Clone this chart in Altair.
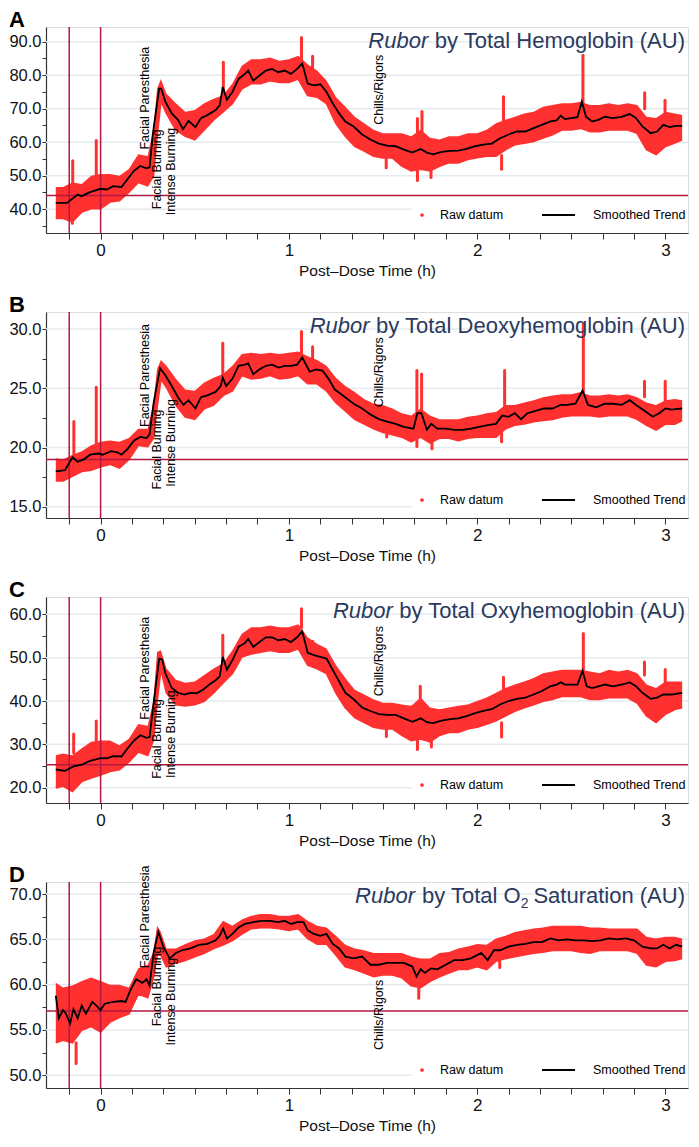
import altair as alt
import pandas as pd

FONT = "Liberation Sans"
RED_PTS = "#ff3030"
RED_LINE = "#b3173f"
GRID = "#e3ebef"
NAVY = "#2b3a5e"
AXC = "#333333"

W_PLOT = 642
H_PLOT = 206
X_DOMAIN = [-0.29, 3.12]

# ---------------- shared time grid of the raw-data envelope (h) ----------------
band_t = [-0.238, -0.2, -0.15, -0.1, -0.05, 0.0, 0.05, 0.1, 0.15, 0.2, 0.25, 0.28, 0.3, 0.32, 0.35,
          0.4, 0.45, 0.5, 0.55, 0.6, 0.65, 0.7, 0.75, 0.8, 0.85, 0.9, 0.95, 1.0, 1.05, 1.1, 1.15,
          1.2, 1.25, 1.3, 1.35, 1.4, 1.45, 1.5, 1.55, 1.6, 1.65, 1.7, 1.75, 1.8, 1.85, 1.9, 1.95,
          2.0, 2.05, 2.1, 2.15, 2.2, 2.25, 2.3, 2.35, 2.4, 2.45, 2.5, 2.55, 2.6, 2.65, 2.7, 2.75,
          2.8, 2.85, 2.9, 2.95, 3.0, 3.05, 3.089]

# ---------------- events ----------------
event_labels = ["Facial Paresthesia", "Facial Burning", "Intense Burning", "Chills/Rigors"]
event_t = [0.255, 0.323, 0.397, 1.50]
vline_t = [-0.1667, 0.0]
x_tick_values = [-1/6, 0, 1/6, 2/6, 3/6, 4/6, 5/6, 1, 7/6, 8/6, 9/6, 10/6, 11/6, 2,
                 13/6, 14/6, 15/6, 16/6, 17/6, 3]

# ---------------- Panel A : Total Hemoglobin ----------------
A_trend_t = [-0.238, -0.178, -0.122, -0.1, -0.056, 0.0, 0.033, 0.067, 0.111, 0.144, 0.178, 0.211,
             0.244, 0.26, 0.278, 0.311, 0.322, 0.344, 0.378, 0.411, 0.438, 0.467, 0.504, 0.533,
             0.567, 0.611, 0.633, 0.649, 0.671, 0.7, 0.733, 0.767, 0.784, 0.811, 0.844, 0.878,
             0.911, 0.944, 0.978, 1.011, 1.044, 1.071, 1.1, 1.133, 1.167, 1.2, 1.233, 1.267, 1.3,
             1.344, 1.389, 1.433, 1.478, 1.522, 1.567, 1.611, 1.656, 1.7, 1.733, 1.767, 1.811,
             1.856, 1.9, 1.944, 1.989, 2.033, 2.078, 2.122, 2.167, 2.211, 2.256, 2.3, 2.344,
             2.389, 2.422, 2.444, 2.467, 2.5, 2.533, 2.556, 2.578, 2.611, 2.644, 2.678, 2.722,
             2.767, 2.811, 2.844, 2.878, 2.922, 2.956, 2.989, 3.022, 3.056, 3.089]
A_trend_v = [41.9, 41.9, 44.4, 43.9, 45.1, 46.1, 45.9, 46.9, 46.6, 49.0, 51.5, 52.9,
             52.2, 52.5, 62.7, 76.0, 76.0, 72.1, 68.6, 66.7, 63.9, 66.4, 64.5, 67.2,
             68.1, 69.6, 71.1, 76.5, 72.7, 75.0, 78.9, 80.4, 81.4, 78.4, 79.9, 81.4,
             81.9, 80.9, 81.4, 80.4, 81.9, 83.5, 77.5, 77.0, 77.3, 75.0, 71.6, 68.6, 66.2,
             64.7, 62.3, 60.8, 59.6, 59.0, 58.8, 57.8, 56.9, 58.0, 56.9, 56.4, 57.1,
             57.4, 57.5, 58.0, 58.8, 59.3, 59.6, 61.2, 62.3, 63.2, 63.2, 64.2, 65.2,
             66.2, 66.5, 67.9, 66.9, 67.2, 67.5, 72.1, 67.6, 66.2, 66.7, 67.6, 67.2,
             67.6, 68.4, 67.2, 64.7, 62.7, 63.2, 65.2, 64.5, 64.9, 64.9]
A_band_lo = [37.3, 37.3, 36.3, 39.2, 40.2, 40.2, 42.2, 42.6, 45.1, 48.0, 47.1, 50.0, 62.0, 72.5, 68.6,
             63.7, 61.8, 60.8, 63.7, 66.7, 69.1, 71.6, 76.0, 77.5, 77.5, 78.4, 77.9, 77.9, 78.9, 74.0, 73.5,
             71.6, 65.7, 61.8, 58.8, 57.4, 55.9, 55.4, 55.4, 52.9, 51.5, 52.0, 51.5, 52.9, 53.9, 53.9, 54.9,
             55.4, 55.9, 55.9, 57.8, 59.3, 59.8, 60.3, 61.3, 62.3, 63.7, 63.7, 64.2, 63.2, 63.2, 63.7, 63.7,
             63.7, 62.7, 57.8, 56.4, 58.8, 59.8, 60.8]
A_band_hi = [46.6, 46.6, 48.0, 47.5, 50.0, 50.5, 50.5, 50.0, 52.0, 56.4, 55.9, 64.0, 76.0, 78.9, 74.5,
             71.6, 69.1, 69.6, 71.6, 73.0, 74.0, 77.5, 82.8, 84.8, 84.8, 85.3, 84.3, 84.8, 85.8, 83.3, 81.4,
             78.4, 73.5, 70.6, 67.6, 65.7, 63.7, 62.7, 62.7, 62.7, 61.8, 63.7, 61.3, 60.8, 61.8, 61.8, 62.7,
             62.7, 63.7, 65.7, 66.7, 67.6, 68.6, 69.1, 70.6, 71.1, 71.6, 71.6, 72.1, 71.1, 71.1, 71.6, 71.1,
             71.6, 71.1, 67.6, 67.2, 69.1, 68.6, 68.1]
A_spike_t = [-0.148, -0.023, 0.652, 1.067, 1.126, 1.683, 1.707, 2.14, 2.562, 2.89, 2.998,
             1.683, 1.755, 2.13, 1.517, -0.15]
A_spike_lo = [47.0, 50.0, 73.0, 84.0, 82.0, 62.0, 62.0, 66.0, 71.0, 70.0, 68.0,
              48.6, 49.5, 51.9, 52.4, 35.8]
A_spike_hi = [54.5, 60.5, 83.9, 91.3, 85.7, 67.1, 69.2, 73.6, 86.0, 74.8, 72.5,
              52.0, 52.0, 56.0, 55.4, 37.5]
A_event_y = [57.8, 40.0, 38.2, 65.2]
A_baseline = 44.1
A_domain = [32.9, 94.4]

# ---------------- Panel B : Total Deoxyhemoglobin ----------------
B_trend_t = [-0.238, -0.189, -0.156, -0.149, -0.122, -0.089, -0.056, -0.011, 0.011, 0.056, 0.089,
             0.111, 0.144, 0.178, 0.211, 0.244, 0.26, 0.282, 0.316, 0.344, 0.378, 0.411, 0.44,
             0.467, 0.504, 0.533, 0.567, 0.611, 0.638, 0.649, 0.667, 0.7, 0.733, 0.767, 0.784,
             0.811, 0.844, 0.878, 0.911, 0.944, 0.978, 1.011, 1.044, 1.071, 1.111, 1.144, 1.178,
             1.211, 1.244, 1.278, 1.311, 1.344, 1.389, 1.433, 1.478, 1.522, 1.567, 1.611, 1.662,
             1.682, 1.704, 1.733, 1.756, 1.789, 1.833, 1.878, 1.922, 1.967, 2.011, 2.056, 2.1,
             2.133, 2.167, 2.2, 2.233, 2.267, 2.311, 2.356, 2.4, 2.444, 2.478, 2.522, 2.56, 2.589,
             2.633, 2.678, 2.722, 2.767, 2.811, 2.844, 2.889, 2.933, 2.967, 3.0, 3.033, 3.089]
B_trend_v = [18.0, 18.1, 19.0, 19.2, 18.8, 19.0, 19.4, 19.5, 19.4, 19.7, 19.6,
             19.4, 19.9, 20.6, 20.9, 20.8, 21.1, 23.8, 26.7, 26.1, 25.2, 24.25, 23.6,
             24.0, 23.3, 24.25, 24.4, 24.7, 25.2, 25.9, 25.2, 25.8, 26.9, 27.0, 27.1,
             26.2, 26.6, 26.9, 27.0, 26.75, 26.9, 26.9, 27.0, 27.6, 26.4, 26.6, 26.5,
             25.8, 24.9, 24.5, 24.1, 23.7, 23.3, 22.8, 22.4, 22.2, 22.0, 21.75, 21.6,
             22.9, 22.9, 21.5, 22.0, 21.6, 21.6, 21.5, 21.5, 21.6, 21.75, 21.9, 22.0,
             22.7, 22.6, 22.9, 22.4, 22.9, 23.1, 23.3, 23.3, 23.6, 23.6, 23.7, 24.8, 23.6,
             23.4, 23.7, 23.7, 23.6, 24.0, 23.6, 23.1, 22.6, 22.9, 23.3, 23.2, 23.3]
B_band_lo = [17.2, 17.2, 17.6, 18.0, 18.1, 18.4, 18.6, 18.3, 19.0, 20.2, 20.1, 20.8, 23.5, 25.8, 25.1,
             23.6, 22.6, 22.4, 23.3, 23.6, 24.4, 24.8, 26.1, 25.8, 25.9, 26.1, 25.8, 25.9, 26.1, 25.4, 25.4,
             24.8, 23.8, 23.1, 22.4, 22.0, 21.6, 21.3, 21.1, 20.9, 20.5, 20.9, 20.4, 20.8, 20.8, 20.6, 20.8,
             20.9, 20.9, 20.9, 21.6, 21.9, 22.0, 22.2, 22.3, 22.4, 22.6, 22.7, 22.7, 22.7, 22.6, 22.7, 22.7,
             22.7, 22.4, 21.9, 21.5, 22.0, 22.0, 22.3]
B_band_hi = [19.1, 19.0, 19.4, 19.7, 20.2, 20.5, 20.6, 20.5, 20.8, 21.6, 21.6, 23.8, 26.6, 27.4, 26.9,
             25.8, 24.9, 24.8, 25.5, 25.9, 26.2, 26.9, 27.9, 28.0, 27.9, 28.0, 27.9, 28.0, 28.1, 27.7, 27.4,
             26.9, 25.9, 25.2, 24.7, 24.1, 23.7, 23.6, 23.3, 22.9, 22.7, 23.3, 22.7, 22.4, 22.4, 22.4, 22.6,
             22.7, 22.9, 23.0, 23.6, 23.6, 23.8, 24.0, 24.25, 24.4, 24.5, 24.5, 24.7, 24.4, 24.4, 24.5, 24.4,
             24.5, 24.25, 23.8, 23.6, 24.0, 24.1, 24.0]
B_spike_t = [-0.142, -0.023, 0.649, 1.067, 1.126, 1.68, 1.705, 2.146, 2.564, 2.889, 2.999,
             1.68, 1.76, 2.13, 1.52]
B_spike_lo = [19.3, 20.0, 26.0, 28.0, 27.5, 22.5, 22.5, 23.5, 24.6, 24.3, 24.0,
              20.1, 19.9, 20.5, 20.9]
B_spike_hi = [22.2, 25.1, 28.8, 29.8, 28.5, 26.5, 26.2, 26.5, 30.4, 25.6, 25.6,
              21.0, 20.9, 21.2, 21.5]
B_event_y = [21.74, 16.47, 16.70, 23.4]
B_baseline = 19.0
B_domain = [14.06, 31.44]

# ---------------- Panel C : Total Oxyhemoglobin ----------------
C_trend_t = [-0.238, -0.189, -0.144, -0.1, -0.056, 0.0, 0.033, 0.067, 0.111, 0.144, 0.178, 0.211,
             0.244, 0.26, 0.282, 0.311, 0.327, 0.344, 0.378, 0.411, 0.444, 0.478, 0.511, 0.544,
             0.578, 0.611, 0.633, 0.649, 0.671, 0.7, 0.733, 0.767, 0.784, 0.811, 0.844, 0.878,
             0.911, 0.944, 0.978, 1.011, 1.044, 1.071, 1.1, 1.133, 1.167, 1.2, 1.233, 1.267, 1.3,
             1.344, 1.389, 1.433, 1.478, 1.522, 1.567, 1.611, 1.656, 1.7, 1.733, 1.767, 1.811,
             1.856, 1.9, 1.944, 1.989, 2.033, 2.078, 2.122, 2.167, 2.211, 2.256, 2.3, 2.344,
             2.389, 2.422, 2.444, 2.467, 2.5, 2.533, 2.56, 2.582, 2.611, 2.644, 2.678, 2.722,
             2.767, 2.811, 2.844, 2.878, 2.922, 2.956, 2.989, 3.033, 3.089]
C_trend_v = [24.2, 23.9, 24.9, 25.3, 26.2, 26.8, 26.8, 27.3, 27.2, 29.1, 30.9, 32.1,
             31.5, 31.7, 39.6, 49.8, 49.6, 46.4, 43.0, 41.9, 41.5, 41.9, 41.8, 42.6,
             43.8, 44.8, 45.7, 50.2, 47.2, 49.4, 52.5, 53.4, 54.3, 52.5, 53.6, 54.7,
             54.7, 54.0, 54.3, 53.6, 54.7, 56.1, 51.1, 50.6, 50.2, 49.8, 47.2, 44.5, 41.9,
             40.4, 38.5, 37.7, 37.0, 36.8, 36.8, 36.0, 35.2, 36.0, 35.1, 34.9, 35.5,
             35.8, 36.0, 36.5, 37.2, 37.7, 38.1, 39.2, 40.0, 40.5, 40.8, 41.5, 42.3,
             43.4, 43.8, 44.3, 43.8, 43.8, 43.8, 47.0, 43.4, 43.0, 43.4, 43.8, 43.4,
             43.8, 44.3, 43.4, 41.9, 40.5, 40.8, 41.5, 41.5, 41.9]
C_band_lo = [20.0, 20.4, 19.2, 21.5, 22.3, 23.0, 23.8, 24.2, 26.0, 28.3, 27.5, 31.0, 40.0, 47.5, 41.9,
             39.2, 38.9, 39.2, 40.0, 41.9, 44.2, 46.4, 50.2, 50.9, 51.3, 51.7, 51.3, 51.3, 52.1, 48.3, 47.5,
             46.4, 41.9, 38.5, 36.2, 35.1, 34.0, 33.6, 33.6, 32.1, 30.9, 31.3, 30.6, 32.1, 32.8, 32.8, 33.6,
             34.0, 34.7, 35.5, 36.6, 37.7, 38.5, 39.2, 40.0, 40.4, 41.1, 41.1, 41.1, 40.4, 40.4, 40.8, 40.8,
             40.8, 39.6, 36.6, 35.1, 37.0, 38.1, 38.5]
C_band_hi = [27.5, 27.9, 27.5, 29.1, 30.6, 30.9, 30.9, 29.8, 31.3, 34.7, 34.3, 40.0, 51.3, 51.7, 47.5,
             44.9, 44.2, 44.5, 46.0, 47.5, 48.7, 51.7, 55.5, 57.0, 57.0, 57.4, 57.0, 57.0, 57.7, 54.7, 53.2,
             52.1, 48.3, 45.3, 42.6, 41.5, 40.4, 39.6, 39.6, 39.2, 38.9, 40.8, 38.5, 38.1, 38.5, 38.9, 39.2,
             40.0, 40.8, 41.9, 43.0, 43.8, 44.5, 45.3, 46.4, 46.8, 47.2, 47.2, 47.2, 46.8, 46.4, 47.2, 46.8,
             47.2, 46.4, 43.8, 43.0, 44.5, 44.5, 44.5]
C_spike_t = [-0.143, -0.023, 0.649, 1.067, 1.126, 1.698, 2.14, 2.564, 2.889, 2.999,
             1.683, 1.757, 2.13, 1.518]
C_spike_lo = [28.0, 30.0, 48.0, 57.0, 52.0, 39.0, 42.0, 47.0, 46.0, 44.0,
              28.8, 29.4, 31.7, 31.8]
C_spike_hi = [32.4, 35.4, 55.2, 61.3, 53.8, 43.4, 45.5, 55.6, 49.0, 47.3,
              31.0, 31.0, 35.0, 33.6]
C_event_y = [35.7, 22.04, 22.26, 41.1]
C_baseline = 25.3
C_domain = [16.47, 64.0]

# ---------------- Panel D : Total O2 Saturation ----------------
D_trend_t = [-0.238, -0.222, -0.2, -0.184, -0.162, -0.144, -0.122, -0.1, -0.078, -0.044, -0.022,
             0.0, 0.022, 0.067, 0.111, 0.133, 0.156, 0.189, 0.222, 0.244, 0.26, 0.282, 0.307,
             0.333, 0.367, 0.4, 0.433, 0.478, 0.522, 0.567, 0.611, 0.633, 0.651, 0.671, 0.7,
             0.733, 0.767, 0.811, 0.856, 0.9, 0.944, 0.978, 1.011, 1.044, 1.078, 1.1, 1.133,
             1.167, 1.2, 1.233, 1.267, 1.3, 1.344, 1.389, 1.433, 1.478, 1.522, 1.567, 1.611,
             1.656, 1.678, 1.7, 1.722, 1.756, 1.789, 1.833, 1.878, 1.922, 1.967, 2.022, 2.056,
             2.089, 2.122, 2.167, 2.211, 2.256, 2.3, 2.344, 2.389, 2.433, 2.478, 2.522, 2.567,
             2.611, 2.656, 2.7, 2.744, 2.789, 2.833, 2.878, 2.922, 2.956, 2.989, 3.022, 3.056, 3.089]
D_trend_v = [58.8, 56.3, 57.2, 56.8, 55.7, 57.3, 56.3, 57.7, 56.8, 58.1, 57.7,
             57.2, 57.9, 58.1, 58.2, 58.1, 59.3, 60.6, 60.2, 60.6, 59.9, 63.6, 65.8,
             64.2, 62.9, 63.5, 63.8, 64.0, 64.4, 64.5, 64.9, 65.4, 66.2, 65.1, 65.6,
             66.3, 66.7, 66.9, 67.05, 67.05, 66.9, 67.05, 66.7, 66.9, 66.9, 66.0, 65.6,
             65.4, 65.6, 64.5, 64.0, 63.1, 62.9, 63.1, 62.2, 62.2, 62.4, 62.4, 62.4,
             62.0, 60.9, 61.7, 61.3, 61.8, 61.7, 62.2, 62.7, 62.7, 62.9, 63.5, 62.7,
             63.8, 63.8, 64.2, 64.4, 64.5, 64.7, 64.7, 65.1, 64.9, 65.0, 64.9, 64.9,
             64.8, 64.9, 65.1, 65.0, 65.1, 64.9, 64.2, 64.0, 64.0, 64.4, 64.0, 64.4, 64.2]
D_band_lo = [53.6, 53.9, 53.6, 55.0, 55.4, 54.8, 55.9, 56.4, 56.8, 59.0, 58.6, 60.8, 63.3, 63.3, 62.0,
             62.4, 62.7, 63.1, 63.5, 64.0, 64.4, 64.9, 65.6, 66.2, 66.3, 66.3, 66.2, 66.0, 66.2, 65.1, 64.5,
             64.5, 63.3, 62.0, 61.7, 61.3, 60.9, 61.1, 61.1, 60.8, 59.9, 59.7, 60.4, 60.9, 61.3, 61.7, 61.7,
             62.0, 61.7, 62.6, 62.9, 63.1, 63.3, 63.5, 63.6, 63.8, 63.8, 63.8, 63.6, 63.5, 63.8, 63.8, 63.8,
             63.8, 63.5, 62.2, 62.0, 62.6, 62.7, 62.9]
D_band_hi = [60.2, 59.7, 59.9, 60.4, 60.8, 60.4, 60.0, 60.0, 59.7, 61.8, 62.2, 63.6, 66.5, 65.8, 64.0,
             64.0, 64.5, 64.9, 65.1, 65.6, 67.05, 66.5, 67.2, 67.6, 67.8, 67.8, 67.6, 67.6, 67.8, 67.05, 66.5,
             66.3, 65.4, 64.4, 64.0, 63.8, 63.5, 63.5, 63.5, 63.5, 63.1, 62.9, 62.9, 63.5, 63.6, 64.0, 64.2,
             64.5, 64.4, 65.1, 65.4, 65.8, 66.0, 66.2, 66.3, 66.5, 66.5, 66.5, 66.5, 66.3, 66.3, 66.2, 66.2,
             66.2, 66.2, 65.3, 65.1, 65.3, 65.3, 65.1]
D_spike_t = [-0.13, 1.69, 2.12]
D_spike_lo = [51.3, 58.5, 61.9]
D_spike_hi = [53.6, 60.0, 62.6]
D_event_y = [61.8, 55.4, 53.3, 52.8]
D_baseline = 57.1
D_domain = [48.6, 71.33]

# ---------------- helpers ----------------
ARIAL_W = {' ': 250, '(': 333, ')': 333, 'A': 667, 'U': 722, 'T': 611, 'H': 722, 'D': 722,
           'O': 778, 'S': 667, 'R': 722, 'a': 556, 'b': 556, 'c': 500, 'd': 556, 'e': 556,
           'g': 556, 'h': 556, 'i': 222, 'l': 222, 'm': 833, 'n': 556, 'o': 556, 'p': 556,
           'r': 333, 's': 500, 't': 278, 'u': 556, 'v': 500, 'x': 500, 'y': 500, '2': 556}


def text_width(s, size):
    return sum(ARIAL_W.get(c, 556) for c in s) / 1000.0 * size


ONE = pd.DataFrame({"k": [0]})


def title_layers(parts, right_x, base_y):
    layers = []
    cur = right_x
    for text, italic, size, dy in reversed(parts):
        kw = dict(align="right", baseline="alphabetic", font=FONT, fontSize=size, color=NAVY)
        if italic:
            kw["fontStyle"] = "italic"
        layers.append(
            alt.Chart(ONE).mark_text(**kw).encode(
                x=alt.value(cur), y=alt.value(base_y + dy), text=alt.value(text.strip())
            )
        )
        cur -= text_width(text, size)
    return layers


def panel(letter, title_parts, trend_t, trend_v, lo, hi, sp_t, sp_lo, sp_hi,
          baseline, domain, tick_step, label_step, event_y):
    xs = alt.Scale(domain=X_DOMAIN, nice=False, zero=False)
    ys = alt.Scale(domain=domain, nice=False, zero=False)
    first = int(-(-domain[0] // tick_step))
    y_ticks = []
    k = first
    while k * tick_step <= domain[1] + 1e-9:
        y_ticks.append(round(k * tick_step, 3))
        k += 1
    grid_vals = [v for v in y_ticks if abs(v / label_step - round(v / label_step)) < 1e-6]

    x_axis = alt.Axis(values=x_tick_values, grid=False, tickSize=6, tickColor=AXC,
                      domainColor=AXC, domainWidth=1.2,
                      labelExpr="abs(datum.value - round(datum.value)) < 0.001 ? format(round(datum.value), 'd') : ''",
                      labelFont=FONT, labelFontSize=17, labelColor="#111", labelPadding=3,
                      labelFlush=False, labelOverlap=False,
                      title="Post\u2013Dose Time (h)", titleFont=FONT, titleFontSize=15.5,
                      titleFontWeight="normal", titleColor="#111", titlePadding=5)
    y_axis = alt.Axis(values=y_ticks, grid=False, tickSize=4, tickColor=AXC,
                      domainColor=AXC, domainWidth=1.2,
                      labelExpr="abs(datum.value / %s - round(datum.value / %s)) < 0.001 ? format(datum.value, '.1f') : ''" % (label_step, label_step),
                      labelFont=FONT, labelFontSize=16.5, labelColor="#111", labelPadding=1,
                      labelFlush=False, labelOverlap=False, title="")

    X = alt.X("t:Q", scale=xs, axis=x_axis)

    def Y(f):
        return alt.Y(f + ":Q", scale=ys, axis=y_axis)

    band_df = pd.DataFrame({"t": band_t, "v": lo, "hi": hi})
    trend_df = pd.DataFrame({"t": trend_t, "v": trend_v})
    spike_df = pd.DataFrame({"t": sp_t, "v": sp_lo, "hi": sp_hi})
    grid_df = pd.DataFrame({"v": grid_vals})
    vline_df = pd.DataFrame({"t": vline_t})
    hline_df = pd.DataFrame({"v": [baseline]})
    ev_df = pd.DataFrame({"t": event_t, "v": event_y, "label": event_labels})

    grid = alt.Chart(grid_df).mark_rule(color=GRID, strokeWidth=1.5).encode(y=Y("v"))
    box = alt.Chart(ONE).mark_rect(color="white").encode(
        x=alt.value(366), x2=alt.value(W_PLOT), y=alt.value(172), y2=alt.value(H_PLOT - 1))
    band = alt.Chart(band_df).mark_area(color=RED_PTS, opacity=1,
                                        line={"color": RED_PTS, "strokeWidth": 2}).encode(
        x=X, y=Y("v"), y2="hi:Q")
    spikes = alt.Chart(spike_df).mark_rule(color=RED_PTS, strokeWidth=3, strokeCap="round").encode(
        x=X, y=Y("v"), y2="hi:Q")
    vlines = alt.Chart(vline_df).mark_rule(color=RED_LINE, strokeWidth=1.5).encode(x=X)
    hline = alt.Chart(hline_df).mark_rule(color=RED_LINE, strokeWidth=1.5).encode(y=Y("v"))
    trend = alt.Chart(trend_df).mark_line(color="black", strokeWidth=1.8).encode(x=X, y=Y("v"))
    events = alt.Chart(ev_df).mark_text(angle=270, align="left", baseline="alphabetic",
                                        font=FONT, fontSize=12.5, color="black").encode(
        x=X, y=Y("v"), text="label:N")

    leg_y = 188
    leg_dot = alt.Chart(ONE).mark_point(filled=True, color=RED_PTS, size=14, opacity=1).encode(
        x=alt.value(376), y=alt.value(leg_y))
    leg_t1 = alt.Chart(ONE).mark_text(align="left", baseline="middle", font=FONT, fontSize=12.5,
                                      color="black").encode(
        x=alt.value(394), y=alt.value(leg_y), text=alt.value("Raw datum"))
    leg_line = alt.Chart(ONE).mark_rule(color="black", strokeWidth=2).encode(
        x=alt.value(496), x2=alt.value(529), y=alt.value(leg_y))
    leg_t2 = alt.Chart(ONE).mark_text(align="left", baseline="middle", font=FONT, fontSize=12.5,
                                      color="black").encode(
        x=alt.value(547), y=alt.value(leg_y), text=alt.value("Smoothed Trend"))

    letter_mark = alt.Chart(ONE).mark_text(align="left", baseline="alphabetic", font=FONT,
                                           fontSize=22, fontWeight="bold", color="black").encode(
        x=alt.value(-37), y=alt.value(0), text=alt.value(letter))

    layers = [grid, box, band, spikes, vlines, hline, trend, events,
              leg_dot, leg_t1, leg_line, leg_t2, letter_mark] + title_layers(title_parts, W_PLOT - 3, 21)

    return alt.layer(*layers).properties(width=W_PLOT, height=H_PLOT)


pA = panel("A", [("Rubor", True, 22, 0), (" by Total Hemoglobin (AU)", False, 22, 0)],
           A_trend_t, A_trend_v, A_band_lo, A_band_hi, A_spike_t, A_spike_lo, A_spike_hi,
           A_baseline, A_domain, 5, 10, A_event_y)
pB = panel("B", [("Rubor", True, 22, 0), (" by Total Deoxyhemoglobin (AU)", False, 22, 0)],
           B_trend_t, B_trend_v, B_band_lo, B_band_hi, B_spike_t, B_spike_lo, B_spike_hi,
           B_baseline, B_domain, 2.5, 5, B_event_y)
pC = panel("C", [("Rubor", True, 22, 0), (" by Total Oxyhemoglobin (AU)", False, 22, 0)],
           C_trend_t, C_trend_v, C_band_lo, C_band_hi, C_spike_t, C_spike_lo, C_spike_hi,
           C_baseline, C_domain, 5, 10, C_event_y)
pD = panel("D", [("Rubor", True, 22, 0), (" by Total O", False, 22, 0), ("2", False, 14, 5),
                 (" Saturation (AU)", False, 22, 0)],
           D_trend_t, D_trend_v, D_band_lo, D_band_hi, D_spike_t, D_spike_lo, D_spike_hi,
           D_baseline, D_domain, 2.5, 5, D_event_y)

chart = alt.vconcat(pA, pB, pC, pD, spacing=14).resolve_scale(
    x="independent", y="independent"
).properties(
    padding={"left": 0, "top": 0, "right": 0, "bottom": 0}
).configure_view(stroke=None).configure(background="white")

chart.save("out.html", embed_options={"renderer": "svg", "actions": False})
